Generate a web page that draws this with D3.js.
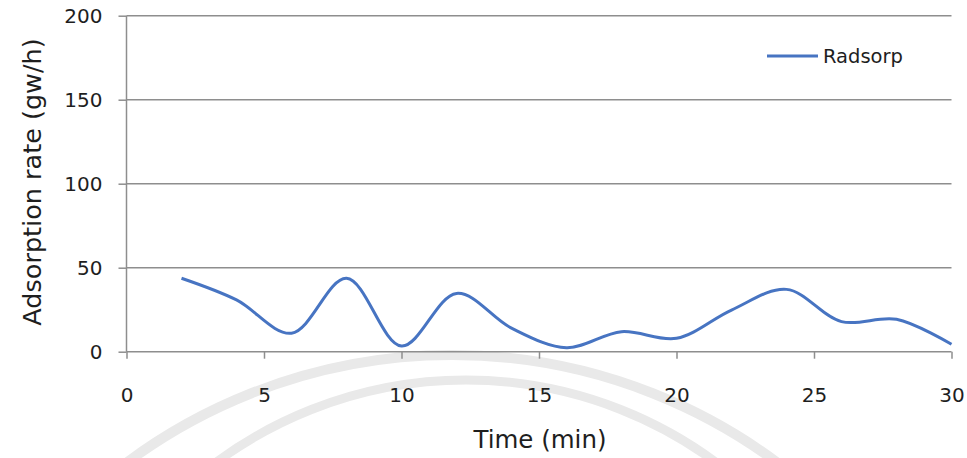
<!DOCTYPE html>
<html><head><meta charset="utf-8">
<script src="https://cdn.jsdelivr.net/npm/d3@7"></script>
<style>body{margin:0;background:#fff}svg{display:block}</style>
</head><body>
<svg id="c" width="967" height="458"></svg>
<script>
const times = [2,4,6,8,10,12,14,16,18,20,22,24,26,28,30];
const radsorp = [43.7,30.8,11,43.7,3.4,34.7,14,2.4,11.9,8,24.8,37.1,17.9,19.3,4.4];
const xTicks = [0,5,10,15,20,25,30];
const yTicks = [0,50,100,150,200];
const seriesName = "Radsorp";
const xTitle = "Time (min)";
const yTitle = "Adsorption rate (gw/h)";

const svg = d3.select("#c");
const m = {l:126.5, r:951.5, t:15.7, b:351.7};
const x = d3.scaleLinear().domain([0,30]).range([m.l,m.r]);
const y = d3.scaleLinear().domain([0,200]).range([m.b,m.t]);
const font = "DejaVu Sans, Verdana, sans-serif";
const txt = "#1e1e1e";
const gray = "#8e8e8e";

// faint watermark arcs
const wm = svg.append("g").attr("fill","none").attr("stroke","#e9e9e9");
wm.append("circle").attr("cx",452).attr("cy",900).attr("r",545).attr("stroke-width",10);
wm.append("circle").attr("cx",466).attr("cy",800).attr("r",420).attr("stroke-width",9);

// gridlines
svg.append("g").selectAll("line").data(yTicks.filter(d=>d>0)).join("line")
  .attr("x1",m.l).attr("x2",m.r).attr("y1",d=>y(d)).attr("y2",d=>y(d))
  .attr("stroke",gray).attr("stroke-width",1.5);

// y axis
const ya = svg.append("g").attr("transform",`translate(${m.l},0)`)
  .call(d3.axisLeft(y).tickValues(yTicks).tickSize(8).tickPadding(16));
// x axis
const xa = svg.append("g").attr("transform",`translate(0,${m.b})`)
  .call(d3.axisBottom(x).tickValues(xTicks).tickSize(7).tickPadding(29));
[ya,xa].forEach(a=>{
  a.attr("font-size",null).attr("font-family",null);
  a.select(".domain").attr("stroke",gray).attr("stroke-width",1.5);
  a.selectAll(".tick line").attr("stroke",gray).attr("stroke-width",1.5);
  a.selectAll("text").attr("font-family",font).attr("font-size",20).attr("fill",txt);
});
xa.select(".domain").attr("d",`M${m.l},0H${m.r}`);
ya.select(".domain").attr("d",`M0,${m.b}V${m.t}`);

// line
svg.append("path").datum(times.map((t,i)=>[t,radsorp[i]]))
  .attr("fill","none").attr("stroke","#4774c2").attr("stroke-width",3)
  .attr("d",d3.line().x(d=>x(d[0])).y(d=>y(d[1])).curve(d3.curveCatmullRom.alpha(0.5)));

// titles
svg.append("text").attr("x",540).attr("y",448).attr("text-anchor","middle")
  .attr("font-family",font).attr("font-size",24.5).attr("fill",txt).text(xTitle);
svg.append("text").attr("transform","translate(41,182) rotate(-90)").attr("text-anchor","middle")
  .attr("font-family",font).attr("font-size",25.5).attr("fill",txt).text(yTitle);

// legend
svg.append("line").attr("x1",767).attr("x2",818).attr("y1",56).attr("y2",56)
  .attr("stroke","#4774c2").attr("stroke-width",3);
svg.append("text").attr("x",823).attr("y",63).attr("font-family",font).attr("font-size",19.5)
  .attr("fill",txt).text(seriesName);
</script>
</body></html>
